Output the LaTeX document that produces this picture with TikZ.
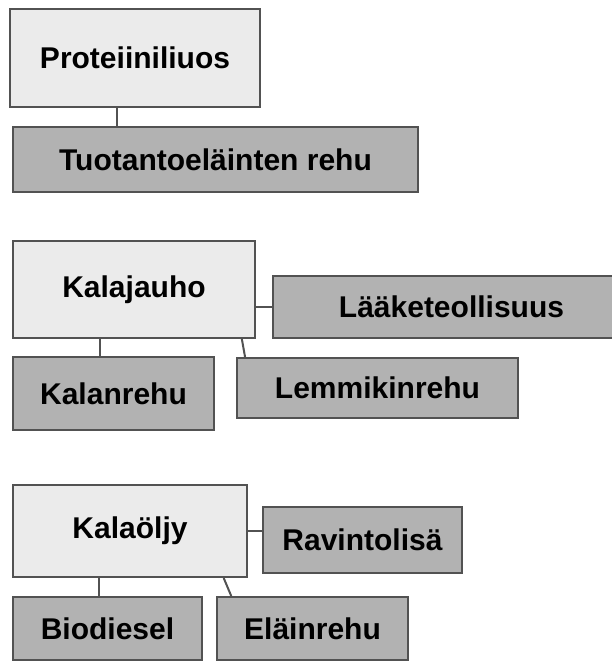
\documentclass[tikz,border=0pt]{standalone}
\usepackage{fontspec}
\setmainfont{Liberation Sans}
\usetikzlibrary{calc}
\begin{document}
\begin{tikzpicture}[x=1pt,y=-1pt,
    main/.style={draw=black!68,line width=2pt,fill=black!8,inner sep=0pt,
      font=\bfseries\fontsize{30}{34}\selectfont},
    use/.style={main,fill=black!30},
    link/.style={draw=black!68,line width=2pt}]
  \useasboundingbox (0,0) rectangle (612,662);
  % Proteiiniliuos
  \node[main,minimum width=250pt,minimum height=98pt](prot) at (135,58){Proteiiniliuos};
  \node[use,minimum width=405pt,minimum height=65pt](tuot) at (215.5,159.5){Tuotantoeläinten rehu};
  \path ($(prot.south west)!.428!(prot.south east)$) coordinate (p1);
  \draw[link] (p1) -- (p1 |- tuot.north);
  % Kalajauho
  \node[main,minimum width=242pt,minimum height=97pt](jauho) at (134,289.5){Kalajauho};
  \node[use,minimum width=357pt,minimum height=62pt](laake) at (451.5,307){Lääketeollisuus};
  \node[use,minimum width=201pt,minimum height=73pt](kalan) at (113.5,393.5){Kalanrehu};
  \node[use,minimum width=281pt,minimum height=60pt](lemmi) at (377.5,388){Lemmikinrehu};
  \path ($(jauho.south west)!.36!(jauho.south east)$) coordinate (j1);
  \draw[link] (j1) -- (j1 |- kalan.north);
  \draw[link] ($(jauho.south west)!.942!(jauho.south east)$) -- ($(lemmi.north west)!.032!(lemmi.north east)$);
  \draw[link] (laake.west) -- (laake.west -| jauho.east);
  % Kalaöljy
  \node[main,minimum width=234pt,minimum height=92pt](oljy) at (130,531){Kalaöljy};
  \node[use,minimum width=199pt,minimum height=66pt](ravi) at (362.5,540){Ravintolisä};
  \node[use,minimum width=189pt,minimum height=63pt](bio) at (107.5,628.5){Biodiesel};
  \node[use,minimum width=191pt,minimum height=63pt](elain) at (312.5,628.5){Eläinrehu};
  \path ($(oljy.south west)!.368!(oljy.south east)$) coordinate (o1);
  \draw[link] (o1) -- (o1 |- bio.north);
  \draw[link] ($(oljy.south west)!.897!(oljy.south east)$) -- ($(elain.north west)!.079!(elain.north east)$);
  \draw[link] (oljy.east) -- (oljy.east -| ravi.west);
\end{tikzpicture}
\end{document}
